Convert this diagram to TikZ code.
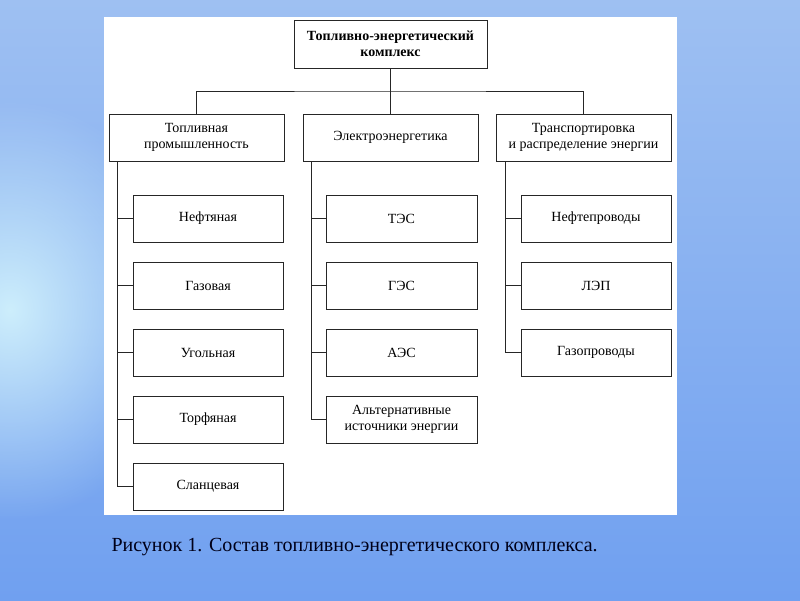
\documentclass[tikz,border=0pt]{standalone}
\usepackage{fontspec}
\setmainfont{Liberation Serif}
\usetikzlibrary{fadings}

\definecolor{skytop}{RGB}{158,192,242}
\definecolor{skybot}{RGB}{112,160,240}
\definecolor{skyglow}{RGB}{205,238,252}
\tikzfading[name=glowfade,inner color=transparent!0,outer color=transparent!100]

\begin{document}
\begin{tikzpicture}[x=1pt,y=-1pt,
		box/.style={shape=rectangle,draw=black!85,line width=0.8pt,fill=white,
			minimum width=150pt,minimum height=47pt,inner sep=2pt,
			align=center,font=\fontsize{14}{15.5}\selectfont},
		headbox/.style={box,minimum width=175pt},
		link/.style={draw=black!85,line width=0.8pt}]
				% background
				\useasboundingbox (0,0) rectangle (800,600);
				\shade[top color=skytop,bottom color=skybot] (0,0) rectangle (800,600);
				\fill[skyglow,path fading=glowfade] (-170,100) rectangle (190,520);
				\fill[white] (104,17) rectangle (677,515);
				
				\node[box,minimum width=193pt,minimum height=48pt,font=\fontsize{14}{16}\selectfont\bfseries] (tek) at (390.5,44) {Топливно-энергетический\\комплекс};
				
				\node[headbox] (fuel) at (196.5,137.5) {Топливная\\промышленность};
				\node[headbox] (elec) at (390.5,137.5) {Электроэнергетика};
				\node[headbox] (trans) at (583.5,137.5) {Транспортировка\\и распределение энергии};
				
				\node[box] (f1) at (208,218.5) {Нефтяная};
				\node[box] (f2) at (208,285.5) {Газовая};
				\node[box] (f3) at (208,352.5) {Угольная};
				\node[box] (f4) at (208,419.5) {Торфяная};
				\node[box] (f5) at (208,486.5) {Сланцевая};
				
				\node[box,minimum width=151pt] (e1) at (401.5,218.5) {ТЭС};
				\node[box,minimum width=151pt] (e2) at (401.5,285.5) {ГЭС};
				\node[box,minimum width=151pt] (e3) at (401.5,352.5) {АЭС};
				\node[box,minimum width=151pt] (e4) at (401.5,419.5) {Альтернативные\\источники энергии};
				
				\node[box] (r1) at (596,218.5) {Нефтепроводы};
				\node[box] (r2) at (596,285.5) {ЛЭП};
				\node[box] (r3) at (596,352.5) {Газопроводы};
				
				% upper links
				\coordinate (bus) at (390.5,91);
				\draw[link] (tek.south) -- (elec.north);
				\draw[link] (fuel.north) |- (bus) -| (trans.north);
				
				% branches
				\coordinate (fs) at (117,161);
				\coordinate (es) at (311,161);
				\coordinate (rs) at (505,161);
				\draw[link] (fs) |- (f5.west);
				\draw[link] (es) |- (e4.west);
				\draw[link] (rs) |- (r3.west);
				\foreach \i in {1,...,4}
					\draw[link] (f\i.west) -- (f\i.west -| fs);
				\foreach \i in {1,...,3}
					\draw[link] (e\i.west) -- (e\i.west -| es);
				\foreach \i in {1,2}
					\draw[link] (r\i.west) -- (r\i.west -| rs);
				
				\node[anchor=west,text=black!90!blue,font=\fontsize{20}{24}\selectfont] (cap) at (108,547) {Рисунок 1. Состав топливно-энергетического комплекса.};
			\end{tikzpicture}
\end{document}
